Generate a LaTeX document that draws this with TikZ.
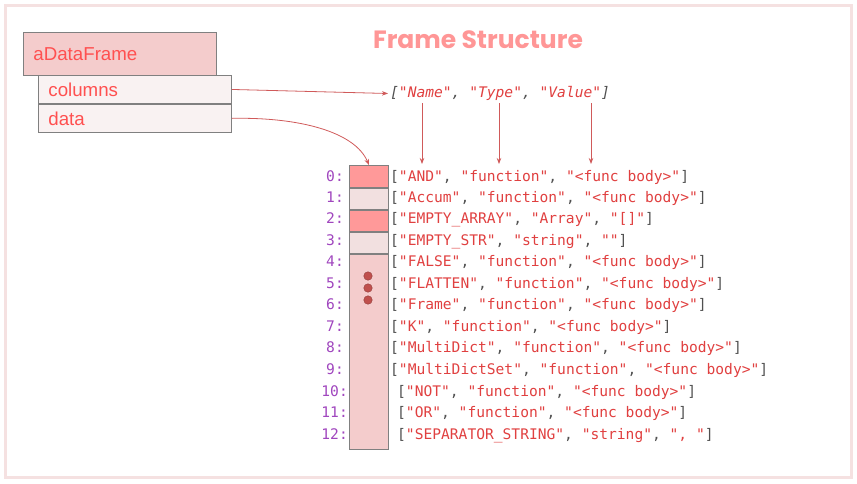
\documentclass[tikz,border=0pt]{standalone}
\usepackage{fontspec}
\setmainfont{Liberation Sans}
\newfontfamily\codefont{DejaVu Sans Mono}
\newfontfamily\titlefont{Poppins}
\usetikzlibrary{arrows.meta,positioning}
\definecolor{edgepink}{RGB}{245,225,225}
\definecolor{boxgray}{RGB}{128,128,128}
\definecolor{headfill}{RGB}{244,204,204}
\definecolor{fieldfill}{RGB}{249,242,242}
\definecolor{labelred}{RGB}{255,80,80}
\definecolor{titlepink}{RGB}{255,150,150}
\definecolor{salmon}{RGB}{255,153,153}
\definecolor{paleslot}{RGB}{242,224,224}
\definecolor{dotred}{RGB}{192,80,77}
\definecolor{linkred}{RGB}{208,90,90}
\definecolor{strred}{RGB}{224,64,64}
\definecolor{brackgray}{RGB}{80,80,80}
\definecolor{idxpurple}{RGB}{160,70,190}
\newcommand{\strv}[1]{\textcolor{strred}{#1}}
\tikzset{
  framebox/.style={draw=boxgray,line width=0.9pt,fill=headfill,anchor=north west,inner xsep=10pt,inner ysep=0pt,text width=173pt,align=left,minimum height=43pt,text=labelred,font=\fontsize{18.7}{20}\selectfont},
  fieldbox/.style={framebox,fill=fieldfill,minimum height=28pt},
  slot/.style={draw=boxgray,line width=0.9pt,minimum width=39pt,inner sep=0pt},
  idx/.style={anchor=east,inner sep=0pt,text=idxpurple,font=\codefont\fontsize{14.6}{16}\selectfont},
  entry/.style={anchor=west,inner xsep=0pt,inner ysep=1pt,text height=10pt,text depth=3pt,yshift=-1.5pt,text=brackgray,font=\codefont\fontsize{14.6}{16}\selectfont},
  link/.style={-{Stealth[length=6pt,width=4.5pt]},draw=linkred,line width=0.8pt},
  dot/.style={circle,draw=dotred!75!black,fill=dotred,minimum size=8.5pt,inner sep=0pt}
}
\begin{document}
\begin{tikzpicture}[x=1pt,y=-1pt]
\useasboundingbox (0,0) rectangle (857,483);
\draw[edgepink,line width=3pt] (5,5) rectangle (851,477);
\node[text=titlepink,font=\titlefont\bfseries\fontsize{25}{28}\selectfont] (title) at (478,40) {Frame Structure};
% the frame object and its fields
\node[framebox] (frame) at (23,32) {aDataFrame};
\node[fieldbox] (columns) at (38,75) {columns};
\node[fieldbox,below=0pt of columns] (data) {data};
% column names
\node[entry,inner xsep=2pt,font=\codefont\itshape\fontsize{14.6}{16}\selectfont] (header) at (388,92) {[\strv{"Name"}, \strv{"Type"}, \strv{"Value"}]};
\coordinate (nametop) at (422,103);
\coordinate (namebot) at (422,164);
\coordinate (typetop) at (499,103);
\coordinate (typebot) at (499,164);
\coordinate (valuetop) at (591,103);
\coordinate (valuebot) at (591,164);
% row indices
\node[idx] (i0) at (344,176) {0:};
\node[idx] (i1) at (344,197) {1:};
\node[idx] (i2) at (344,218) {2:};
\node[idx] (i3) at (344,240) {3:};
\node[idx] (i4) at (344,261) {4:};
\node[idx] (i5) at (344,283) {5:};
\node[idx] (i6) at (344,304) {6:};
\node[idx] (i7) at (344,326) {7:};
\node[idx] (i8) at (344,347) {8:};
\node[idx] (i9) at (344,369) {9:};
\node[idx] (i10) at (348,391) {10:};
\node[idx] (i11) at (348,412) {11:};
\node[idx] (i12) at (348,434) {12:};
% the data column
\node[slot,fill=salmon,anchor=north west,minimum height=22pt] (cell0) at (349,165) {};
\node[slot,fill=paleslot,minimum height=21pt,below=0pt of cell0] (cell1) {};
\node[slot,fill=salmon,minimum height=21pt,below=0pt of cell1] (cell2) {};
\node[slot,fill=paleslot,minimum height=21pt,below=0pt of cell2] (cell3) {};
\node[slot,fill=headfill,minimum height=195pt,below=0pt of cell3] (cellrest) {};
\node[dot] (dot1) at (368,276) {};
\node[dot] (dot2) at (368,288) {};
\node[dot] (dot3) at (368,300) {};
% rows
\node[entry] (row0) at (390,176) {[\strv{"AND"}, \strv{"function"}, \strv{"<func body>"}]};
\node[entry] (row1) at (390,197) {[\strv{"Accum"}, \strv{"function"}, \strv{"<func body>"}]};
\node[entry] (row2) at (390,218) {[\strv{"EMPTY\_ARRAY"}, \strv{"Array"}, \strv{"[]"}]};
\node[entry] (row3) at (390,240) {[\strv{"EMPTY\_STR"}, \strv{"string"}, \strv{""}]};
\node[entry] (row4) at (390,261) {[\strv{"FALSE"}, \strv{"function"}, \strv{"<func body>"}]};
\node[entry] (row5) at (390,283) {[\strv{"FLATTEN"}, \strv{"function"}, \strv{"<func body>"}]};
\node[entry] (row6) at (390,304) {[\strv{"Frame"}, \strv{"function"}, \strv{"<func body>"}]};
\node[entry] (row7) at (390,326) {[\strv{"K"}, \strv{"function"}, \strv{"<func body>"}]};
\node[entry] (row8) at (390,347) {[\strv{"MultiDict"}, \strv{"function"}, \strv{"<func body>"}]};
\node[entry] (row9) at (390,369) {[\strv{"MultiDictSet"}, \strv{"function"}, \strv{"<func body>"}]};
\node[entry] (row10) at (397,391) {[\strv{"NOT"}, \strv{"function"}, \strv{"<func body>"}]};
\node[entry] (row11) at (397,412) {[\strv{"OR"}, \strv{"function"}, \strv{"<func body>"}]};
\node[entry] (row12) at (397,434) {[\strv{"SEPARATOR\_STRING"}, \strv{"string"}, \strv{", "}]};
% links
\draw[link] (columns.east) -- (header.west);
\draw[link] (data.east) .. controls (300,117) and (355,132) .. (cell0.north);
\draw[link] (nametop) -- (namebot);
\draw[link] (typetop) -- (typebot);
\draw[link] (valuetop) -- (valuebot);
\end{tikzpicture}
\end{document}
